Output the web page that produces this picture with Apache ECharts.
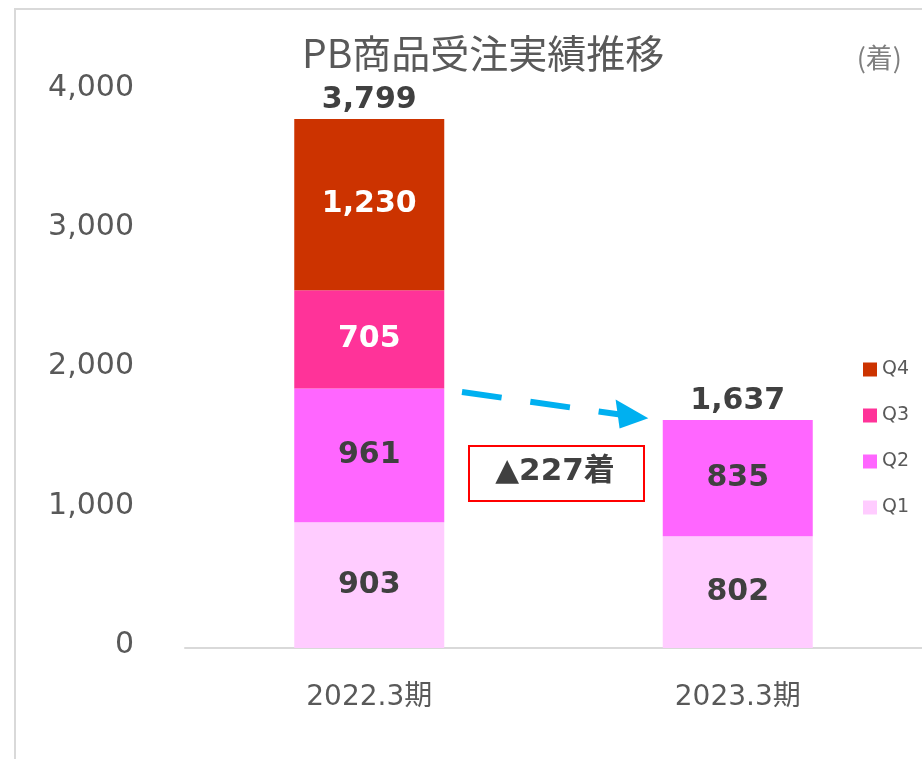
<!DOCTYPE html>
<html>
<head>
<meta charset="utf-8">
<script src="https://cdn.jsdelivr.net/npm/echarts@6/dist/echarts.min.js"></script>
<style>
    html, body { margin: 0; padding: 0; background: #fff; }
    #chart { width: 922px; height: 759px; }
</style>
</head>
<body>
<div id="chart"></div>
<script>
// データ
var categories = ["2022.3期", "2023.3期"];
var q1 = [903, 802];
var q2 = [961, 835];
var q3 = [705, 0];
var q4 = [1230, 0];
var totals = [3799, 1637];
var yTicks = [0, 1000, 2000, 3000, 4000];

var numFont = "DejaVu Sans, Noto Sans CJK JP";
var jpFont = "Noto Sans CJK JP, DejaVu Sans";

function fmt(v) {
    return v.toString().replace(/\B(?=(\d{3})+(?!\d))/g, ",");
}

/**
 * 積み上げ系列を作る
 */
function makeSeries(name, data, color, labelColor) {
    return {
        name: name,
        type: "bar",
        stack: "total",
        barWidth: 150,
        data: data,
        itemStyle: { color: color },
        label: {
            show: true,
            position: "inside",
            color: labelColor,
            fontFamily: numFont,
            fontWeight: "bold",
            fontSize: 30,
            formatter: function (p) {
                return p.value ? fmt(p.value) : "";
            }
        }
    };
}

var chart = echarts.init(document.getElementById("chart"));

var option = {
    animation: false,
    title: {
        text: "PB商品受注実績推移",
        left: 297,
        top: 29,
        textStyle: {
            fontFamily: jpFont,
            fontWeight: "normal",
            fontSize: 39,
            color: "#595959"
        }
    },
    legend: {
        orient: "vertical",
        left: 863,
        top: 360,
        padding: 0,
        itemWidth: 14,
        itemHeight: 14,
        itemGap: 27,
        icon: "rect",
        data: ["Q4", "Q3", "Q2", "Q1"],
        textStyle: {
            fontFamily: numFont,
            fontSize: 19,
            color: "#595959"
        }
    },
    grid: {
        left: 185,
        right: 0,
        top: 91,
        height: 557
    },
    xAxis: {
        type: "category",
        data: categories,
        axisTick: { show: false },
        axisLine: { lineStyle: { color: "#D9D9D9", width: 2 } },
        axisLabel: {
            margin: 36,
            fontFamily: numFont,
            fontSize: 28,
            color: "#595959"
        }
    },
    yAxis: {
        type: "value",
        min: yTicks[0],
        max: yTicks[yTicks.length - 1],
        interval: 1000,
        splitLine: { show: false },
        axisLine: { show: false },
        axisTick: { show: false },
        axisLabel: {
            margin: 51,
            fontFamily: numFont,
            fontSize: 30,
            color: "#595959",
            verticalAlign: "bottom",
            lineHeight: 6,
            formatter: function (v) { return fmt(v); }
        }
    },
    series: [
        makeSeries("Q1", q1, "#FFCCFF", "#404040"),
        makeSeries("Q2", q2, "#FF66FF", "#404040"),
        makeSeries("Q3", q3, "#FF3399", "#FFFFFF"),
        makeSeries("Q4", q4, "#CC3300", "#FFFFFF"),
        {
            // 合計ラベル用
            name: "total",
            type: "bar",
            stack: "total",
            barWidth: 150,
            data: [0, 0],
            itemStyle: { color: "transparent" },
            label: {
                show: true,
                position: "top",
                distance: 4,
                color: "#404040",
                fontFamily: numFont,
                fontWeight: "bold",
                fontSize: 30,
                formatter: function (p) {
                    return fmt(totals[p.dataIndex]);
                }
            }
        }
    ],
    graphic: [
        {
            // 外枠
            type: "polyline",
            shape: { points: [[15, 760], [15, 9], [925, 9]] },
            style: { stroke: "#D9D9D9", lineWidth: 2, fill: null },
            silent: true
        },
        {
            type: "text",
            right: 20,
            top: 44,
            style: {
                text: "(着)",
                font: "27px " + jpFont,
                fill: "#7F7F7F"
            }
        },
        {
            // 矢印
            type: "line",
            shape: { x1: 462, y1: 392, x2: 620, y2: 414.5 },
            style: { stroke: "#00B0F0", lineWidth: 6, lineDash: [40, 29] }
        },
        {
            type: "polygon",
            shape: { points: [[648.3, 418.3], [615.6, 399.6], [619.6, 428.4]] },
            style: { fill: "#00B0F0" }
        },
        {
            type: "rect",
            shape: { x: 469, y: 446, width: 175, height: 55 },
            style: { fill: "#fff", stroke: "#FF0000", lineWidth: 2 }
        },
        {
            type: "text",
            x: 555,
            y: 472,
            style: {
                text: "▲227着",
                font: "bold 31px " + numFont,
                fill: "#404040",
                align: "center",
                verticalAlign: "middle"
            }
        }
    ]
};

chart.setOption(option);
</script>
</body>
</html>
